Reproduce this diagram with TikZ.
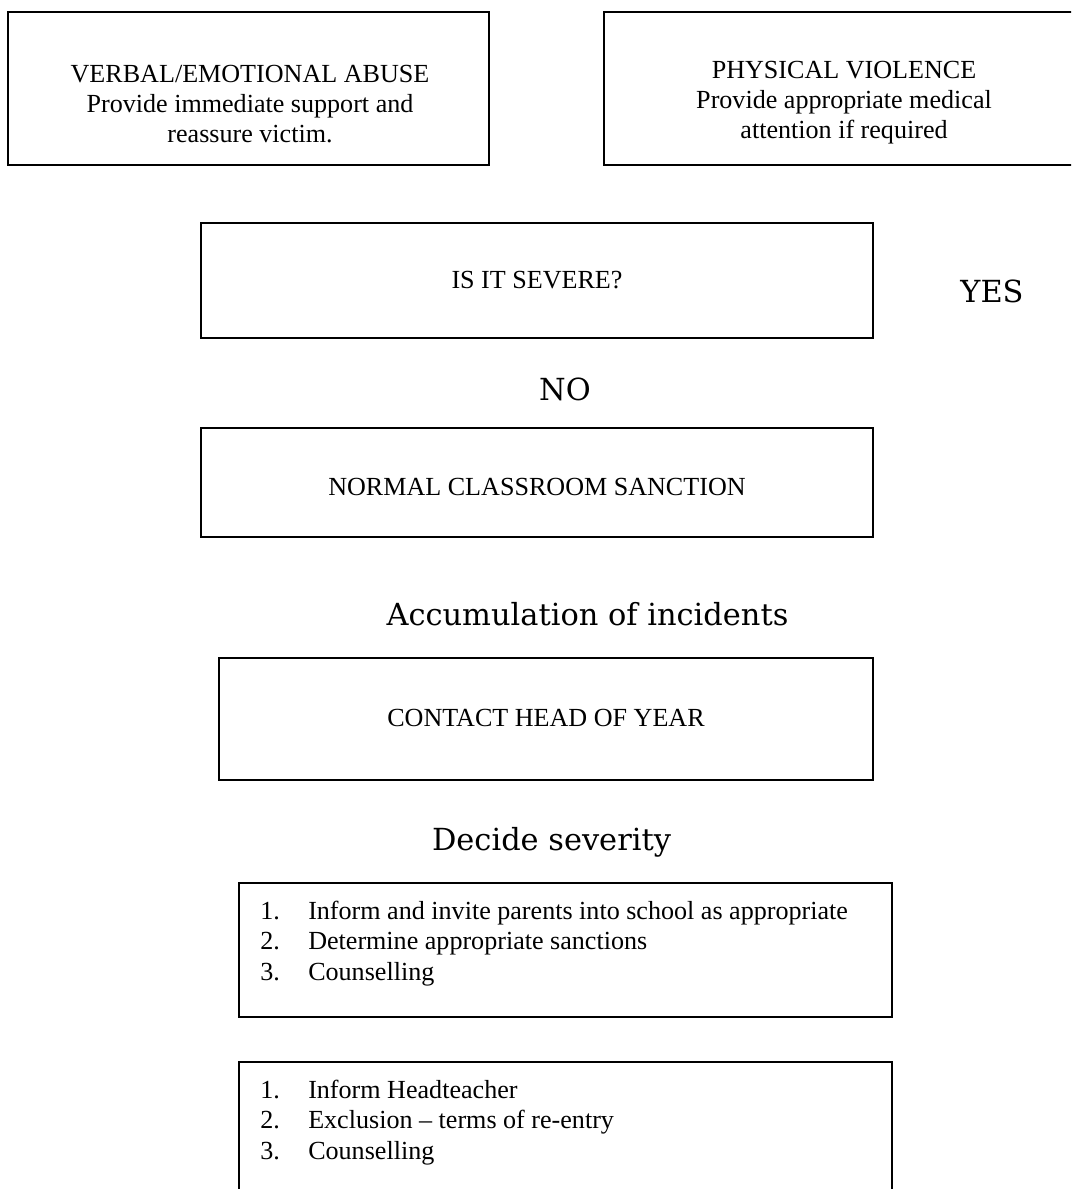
\documentclass[tikz,border=0pt]{standalone}
\usepackage{fontspec}
\setmainfont{Liberation Serif}
\newfontfamily\schfont{DejaVu Serif}
\usepackage{tikz}
\newcommand{\lines}[1]{\begin{tabular}[t]{@{}c@{}}#1\end{tabular}}
\newcommand{\steps}[1]{\begin{tabular}[t]{@{}p{22pt}@{}l@{}}#1\end{tabular}}
\tikzset{
  box/.style 2 args={draw,line width=0.9pt,minimum width=#1*0.46pt,minimum height=#2*0.46pt,inner sep=0pt},
  boxtext/.style={anchor=base,inner sep=0pt,font=\fontsize{12}{13.8}\selectfont},
  listtext/.style={anchor=base west,inner sep=0pt,font=\fontsize{12}{14.2}\selectfont},
  answer/.style={anchor=base,inner sep=0pt,font=\schfont\fontsize{14}{16}\selectfont}
}
\begin{document}
\begin{tikzpicture}[x=0.46pt,y=-0.46pt]
          \path[use as bounding box,fill=white] (0,0) rectangle (1071,1189);
          \clip (0,0) rectangle (1071,1189);
          \node[box={481}{153}] (verbal) at (248.5,88.5) {};
          \node[box={480}{153}] (physical) at (844,88.5) {};
          \node[box={672}{115}] (severe) at (537,280.5) {};
          \node[box={672}{109}] (normal) at (537,482.5) {};
          \node[box={654}{122}] (contact) at (546,719) {};
          \node[box={653}{134}] (parents) at (565.5,950) {};
          \node[box={653}{134}] (head) at (565.5,1129) {};
          \node[boxtext] (verbaltext) at (250,83) {\lines{VERBAL/EMOTIONAL ABUSE\\Provide immediate support and\\reassure victim.}};
          \node[boxtext] (physicaltext) at (844,79) {\lines{PHYSICAL VIOLENCE\\Provide appropriate medical\\attention if required}};
          \node[boxtext] (severetext) at (537,289) {IS IT SEVERE?};
          \node[boxtext] (normaltext) at (537,495) {NORMAL CLASSROOM SANCTION};
          \node[boxtext] (contacttext) at (546,726) {CONTACT HEAD OF YEAR};
          \node[listtext] (parentstext) at (260,919) {\steps{1. & Inform and invite parents into school as appropriate\\2. & Determine appropriate sanctions\\3. & Counselling}};
          \node[listtext] (headtext) at (260,1098) {\steps{1. & Inform Headteacher\\2. & Exclusion -- terms of re-entry\\3. & Counselling}};
          \node[answer] (yes) at (992,303) {YES};
          \node[answer] (no) at (565,401) {NO};
          \node[answer] (accum) at (587.5,625) {Accumulation of incidents};
          \node[answer] (decide) at (551.5,850) {Decide severity};
\end{tikzpicture}
\end{document}
